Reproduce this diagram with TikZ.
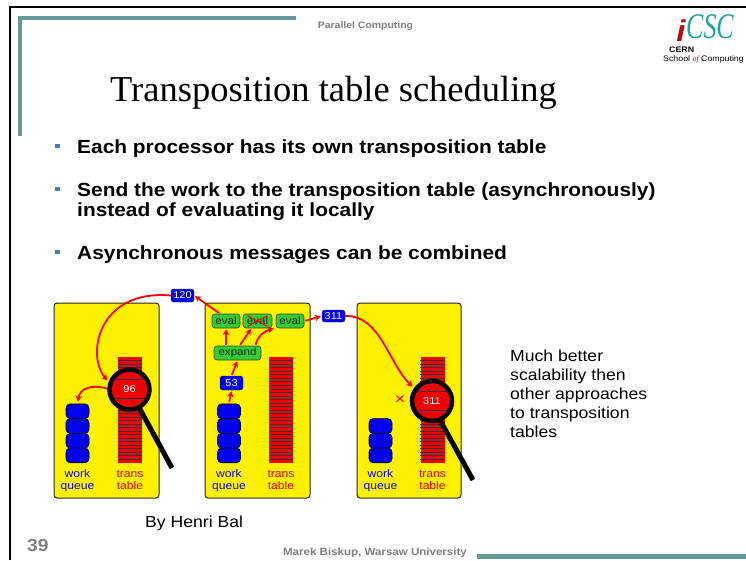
\documentclass[tikz,border=0pt]{standalone}
\usepackage{fontspec}
\setmainfont[FakeStretch=1.1]{Liberation Sans}
\newfontfamily\titlefont{Liberation Serif}
\newfontfamily\logofont[FakeStretch=0.72]{Liberation Serif}
\usetikzlibrary{positioning, calc, arrows.meta}

\definecolor{frameteal}{HTML}{669999}
\definecolor{logoteal}{HTML}{1FA39B}
\definecolor{logored}{HTML}{B0101A}
\definecolor{bulletblue}{HTML}{3F7FB5}
\definecolor{boxblue}{HTML}{0000F0}
\definecolor{boxgreen}{HTML}{33CC33}
\definecolor{tablered}{HTML}{F00000}
\definecolor{labelred}{HTML}{E00000}
\definecolor{footgray}{HTML}{808080}

\tikzset{
  panel/.style={draw=black!85, line width=1pt, rounded corners=3pt, fill=yellow,
    minimum width=105pt, minimum height=195pt, inner sep=0pt},
  msgbox/.style={draw=black!80, fill=boxblue, rounded corners=2.5pt, text=white,
    font=\fontsize{10}{10}\selectfont, minimum width=23pt, minimum height=13pt, inner sep=0pt},
  taskbox/.style={draw=black!75, line width=0.6pt, fill=boxgreen, rounded corners=3pt, text=black!85,
    font=\fontsize{10.5}{10.5}\selectfont, minimum height=14pt, inner sep=0pt},
  qblock/.style={draw=black, line width=0.6pt, fill=boxblue, rounded corners=4pt,
    minimum width=23pt, minimum height=14.7pt, inner sep=0pt},
  transtab/.style={fill=tablered, minimum width=24pt, minimum height=105.5pt, inner sep=0pt},
  stripe/.style={black!80, line width=0.45pt},
  lens/.style={circle, draw=black, line width=4.5pt, fill=tablered, minimum size=40pt,
    inner sep=0pt, text=white, font=\fontsize{10}{10}\selectfont},
  handle/.style={line width=5pt, black},
  flow/.style={red, line width=1.8pt, -{Stealth[length=6pt,width=6.5pt]}},
  qlabel/.style={anchor=base, align=center, font=\fontsize{11}{12.5}\selectfont},
  bullet/.style={anchor=base west, inner sep=0pt, font=\bfseries\fontsize{19}{21}\selectfont},
  note/.style={anchor=base west, inner sep=0pt, font=\fontsize{16}{19}\selectfont},
  foot/.style={text=footgray, font=\bfseries\fontsize{10.5}{11}\selectfont},
}

\begin{document}
\begin{tikzpicture}[x=1pt, y=-1pt, >=Stealth]
    % Page area
    \useasboundingbox (0,0) rectangle (746,560);
    \fill[white] (0,0) rectangle (746,560);

    % Slide frame
    \draw[line width=2pt] (10,560) -- (10,6.7) -- (746,6.7);
    \draw[frameteal, line width=3.8pt] (20.2,136) -- (20.2,18) -- (296,18);
    \draw[frameteal, line width=4.5pt] (477,556.5) -- (746,556.5);

    % Header and logo
    \node[foot, font=\bfseries\fontsize{9.5}{10}\selectfont, anchor=base] (topic) at (365.5,28) {Parallel Computing};
    \node[text=logored, font=\bfseries\itshape\fontsize{30}{30}\selectfont, anchor=base, inner sep=0pt] (logoi) at (681,41.5) {i};
    \node[text=logoteal, font=\logofont\itshape\fontsize{36}{36}\selectfont, anchor=base west, inner sep=0pt] (logocsc) at (686,38) {CSC};
    \node[anchor=base west, inner sep=0pt, font=\bfseries\fontsize{8}{9}\selectfont] (logocern) at (669,52.5) {CERN};
    \node[anchor=base west, inner sep=0pt, font=\fontsize{8}{9}\selectfont] (logoschool) at (663,61.5)
        {School {\titlefont\itshape\color{logored}of} Computing};

    % Title
    \node[anchor=base west, font=\titlefont\fontsize{36.5}{37}\selectfont, inner sep=0pt] (title) at (110,101)
        {Transposition table scheduling};

    % Bullet points
    \node[bullet] (b1) at (77,153) {Each processor has its own transposition table};
    \node[bullet] (b2) at (77,196) {Send the work to the transposition table (asynchronously)};
    \node[bullet] (b2b) at (77,216.5) {instead of evaluating it locally};
    \node[bullet] (b3) at (77,259) {Asynchronous messages can be combined};
    \foreach \y in {153,196,259}
        \fill[bulletblue] (55,\y-9.5) rectangle (59.5,\y-5);

    % The three processors
    \node[panel] (proc1) at (106.5,400.5) {};
    \node[panel] (proc2) at (257.5,400.5) {};
    \node[panel, minimum width=104pt] (proc3) at (409,400.5) {};

    % Transposition tables with their rows
    \foreach \p/\tx in {1/130, 2/281, 3/432.5} {
        \node[transtab] (tt\p) at (\tx,410) {};
        \foreach \k in {1,...,29}
            \draw[stripe] ($(tt\p.north west)+(0,\k*3.52)$) -- ++(24,0);
    }

    % Work queues
    \foreach \i in {0,...,3} {
        \node[qblock] (wq1-\i) at (77.5,411.3+14.7*\i) {};
        \node[qblock] (wq2-\i) at (229,411.3+14.7*\i) {};
    }
    \foreach \i in {1,...,3}
        \node[qblock] (wq3-\i) at (380.5,411.3+14.7*\i) {};

    % Labels under queues and tables
    \foreach \p/\qx/\tx in {1/77.5/130, 2/229/281, 3/380.5/432.5} {
        \node[qlabel, text=boxblue] (ql\p) at (\qx,489.5) {work\\queue};
        \node[qlabel, text=labelred] (tl\p) at (\tx,489.5) {trans\\table};
    }

    % Lookups in the tables
    \node[lens] (lens1) at (129.5,389.5) {96};
    \node[lens] (lens3) at (432,401) {311};
    \foreach \p in {1,3} {
        \begin{scope}
            \clip (lens\p.center) circle (17.8);
            \draw[stripe] ($(lens\p.center)+(-20,-10)$) -- ++(40,0);
            \draw[stripe] ($(lens\p.center)+(-20,9)$) -- ++(40,0);
        \end{scope}
    }
    \coordinate (grip1) at (172,468);
    \coordinate (grip3) at (473,480);
    \draw[handle, shorten <=-3pt] (lens1.-62) -- (grip1);
    \draw[handle, shorten <=-3pt] (lens3.-67) -- (grip3);

    % Messages and tasks
    \node[msgbox] (m120) at (182.5,295.5) {120};
    \node[msgbox, minimum height=12pt] (m311) at (333.5,316) {311};
    \node[msgbox, minimum height=14pt] (m53) at (231.5,383) {53};
    \node[taskbox, minimum width=28pt] (ev1) at (226,321) {eval};
    \node[taskbox, minimum width=29pt] (ev2) at (257.5,321) {eval};
    \node[taskbox, minimum width=28pt] (ev3) at (290,321) {eval};
    \node[taskbox, minimum width=47pt] (expand) at (237.5,353) {expand};

    % Cancelled evaluation and the miss
    \draw[red, line width=1pt] ($(ev2.north west)+(5,2)$) -- ($(ev2.south east)+(-5,-2)$);
    \draw[red, line width=1pt] ($(ev2.south west)+(5,-2)$) -- ($(ev2.north east)+(-5,2)$);
    \node[text=red, font=\fontsize{16}{16}\selectfont] (miss) at (400,400) {×};

    % Work flow
    \draw[flow, shorten <=1.5pt, shorten >=1pt] (wq2-0.north) -- (m53.south);
    \draw[flow, shorten <=1pt, shorten >=1pt] (m53.north) -- (expand.south);
    \draw[flow, shorten <=1pt, shorten >=1pt] (expand.north -| ev1.south) -- (ev1.south);
    \draw[flow, shorten <=1pt, shorten >=1pt] ($(expand.north)+(2,0)$) -- ($(ev2.south)+(-6,0)$);
    \draw[flow, shorten <=1pt, shorten >=1pt] ($(expand.north east)+(-6,0)$)
        .. controls (258,336) and (264,331) .. ($(ev3.south west)+(-1,0)$);
    \draw[flow, shorten <=1pt, shorten >=1pt] (ev1.130) -- (m120.east);
    \draw[flow, shorten <=1pt, shorten >=1pt] (ev3.east) -- (m311.west);
    \draw[flow, shorten >=2pt] (m120.west) .. controls (98,289) and (86,355) .. (lens1.160);
    \draw[flow, shorten >=2pt] (lens1.178) .. controls (92,384) and (80,388) .. (wq1-0.north);
    \draw[flow, shorten >=2pt] (m311.east) .. controls (380,315) and (388,362) .. (lens3.145);

    % Side remark
    \foreach \txt [count=\k] in {Much better, scalability then, other approaches, to transposition, tables}
        \node[note] (note\k) at (510,342+19*\k) {\txt};

    % Footer
    \node[anchor=base west, inner sep=0pt, font=\fontsize{16}{18}\selectfont] (credit) at (145,527) {By Henri Bal};
    \node[foot, anchor=base west, inner sep=0pt, font=\bfseries\fontsize{17.5}{18}\selectfont] (pagenum) at (27,551) {39};
    \node[foot, anchor=base] (author) at (375,555) {Marek Biskup, Warsaw University};
\end{tikzpicture}
\end{document}
